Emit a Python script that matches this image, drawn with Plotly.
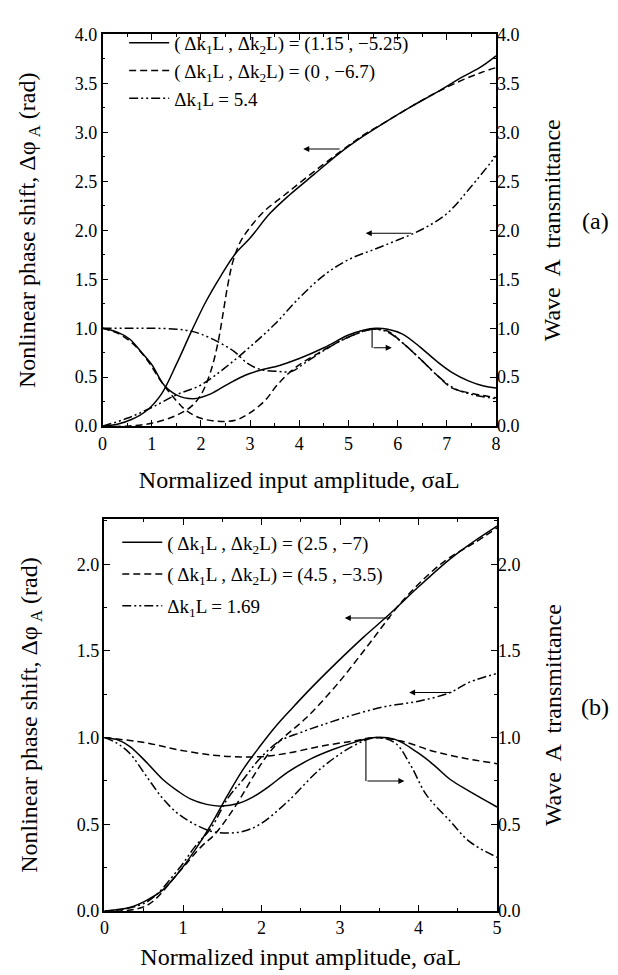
import plotly.graph_objects as go

FONT = "Liberation Serif, Times New Roman, Times, serif"

# ---------------- Panel (a) data ----------------
A_PHI1_X = [0, 0.3, 0.6, 0.9, 1.2, 1.5, 1.8, 2.1, 2.4, 2.7, 3.0, 3.4, 3.8, 4.3, 4.8, 5.3, 5.8, 6.3, 6.8, 7.3, 7.7, 8.0]
A_PHI1_Y = [0, 0.02, 0.07, 0.16, 0.33, 0.63, 0.96, 1.27, 1.53, 1.76, 1.92, 2.17, 2.36, 2.57, 2.78, 2.96, 3.12, 3.27, 3.41, 3.56, 3.67, 3.78]

A_PHI2_X = [0, 0.5, 1.0, 1.5, 1.8, 2.0, 2.2, 2.35, 2.45, 2.55, 2.65, 2.8, 3.0, 3.3, 3.7, 4.2, 4.8, 5.3, 5.8, 6.3, 6.8, 7.3, 7.7, 8.0]
A_PHI2_Y = [0, 0.0, 0.03, 0.11, 0.2, 0.32, 0.56, 0.86, 1.15, 1.45, 1.68, 1.88, 2.03, 2.2, 2.36, 2.56, 2.79, 2.97, 3.12, 3.27, 3.41, 3.53, 3.61, 3.66]

A_PHI3_X = [0, 0.5, 1.0, 1.5, 2.0, 2.5, 3.0, 3.5, 4.0, 4.5, 5.0, 5.5, 6.0, 6.5, 7.0, 7.5, 8.0]
A_PHI3_Y = [0, 0.08, 0.19, 0.32, 0.42, 0.60, 0.81, 1.04, 1.31, 1.54, 1.70, 1.80, 1.90, 2.01, 2.17, 2.45, 2.76]

A_T1_X = [0, 0.3, 0.55, 0.8, 1.0, 1.25, 1.5, 1.85, 2.2, 2.55, 2.9, 3.2, 3.6, 4.0, 4.5, 5.0, 5.3, 5.55, 5.8, 6.1, 6.45, 6.8, 7.1, 7.45, 7.75, 8.0]
A_T1_Y = [1.0, 0.96, 0.89, 0.75, 0.63, 0.42, 0.32, 0.28, 0.33, 0.43, 0.52, 0.57, 0.62, 0.69, 0.80, 0.93, 0.98, 1.0, 0.99, 0.94, 0.81, 0.66, 0.55, 0.46, 0.41, 0.39]

A_T2_X = [0, 0.3, 0.6, 0.9, 1.2, 1.5, 1.7, 2.0, 2.35, 2.7, 2.95, 3.3, 3.55, 3.9, 4.3, 4.8, 5.2, 5.5, 5.8, 6.1, 6.45, 6.8, 7.1, 7.45, 8.0]
A_T2_Y = [1.0, 0.95, 0.85, 0.68, 0.45, 0.26, 0.16, 0.08, 0.05, 0.06, 0.12, 0.26, 0.42, 0.59, 0.72, 0.86, 0.95, 0.99, 0.97, 0.85, 0.69, 0.52, 0.39, 0.34, 0.29]

A_T3_X = [0, 0.5, 1.0, 1.5, 1.8, 2.0, 2.35, 2.68, 2.95, 3.2, 3.55, 3.85, 4.1, 4.4, 4.8, 5.2, 5.5, 5.8, 6.1, 6.45, 6.8, 7.1, 7.45, 8.0]
A_T3_Y = [1.0, 1.0, 1.0, 0.99, 0.97, 0.94, 0.86, 0.76, 0.64, 0.58, 0.56, 0.56, 0.64, 0.74, 0.86, 0.95, 0.99, 0.96, 0.85, 0.69, 0.52, 0.40, 0.33, 0.28]

A_NAMES = ["( Δk<sub>1</sub>L , Δk<sub>2</sub>L) = (1.15 , −5.25)",
           "( Δk<sub>1</sub>L , Δk<sub>2</sub>L) = (0 , −6.7)",
           "Δk<sub>1</sub>L = 5.4"]

# ---------------- Panel (b) data ----------------
B_PHI1_X = [0, 0.32, 0.53, 0.74, 0.94, 1.15, 1.36, 1.57, 1.77, 1.98, 2.19, 2.39, 2.64, 2.95, 3.3, 3.65, 4.0, 4.4, 4.7, 5.0]
B_PHI1_Y = [0, 0.02, 0.06, 0.12, 0.22, 0.35, 0.50, 0.67, 0.82, 0.95, 1.07, 1.17, 1.29, 1.43, 1.58, 1.72, 1.87, 2.03, 2.13, 2.22]

B_PHI2_X = [0, 0.53, 0.94, 1.23, 1.4, 1.57, 1.73, 1.9, 2.06, 2.23, 2.56, 2.95, 3.37, 3.78, 4.15, 4.4, 4.7, 5.0]
B_PHI2_Y = [0, 0.03, 0.22, 0.37, 0.44, 0.54, 0.65, 0.78, 0.89, 0.98, 1.11, 1.30, 1.54, 1.78, 1.95, 2.04, 2.12, 2.21]

B_PHI3_X = [0, 0.53, 0.94, 1.15, 1.36, 1.57, 1.77, 1.98, 2.23, 2.5, 2.75, 3.16, 3.58, 4.0, 4.4, 4.65, 5.0]
B_PHI3_Y = [0, 0.05, 0.24, 0.37, 0.48, 0.65, 0.76, 0.88, 0.98, 1.03, 1.07, 1.13, 1.18, 1.21, 1.26, 1.32, 1.37]

B_T1_X = [0, 0.15, 0.32, 0.53, 0.74, 0.94, 1.1, 1.3, 1.5, 1.7, 1.9, 2.1, 2.33, 2.64, 2.9, 3.16, 3.41, 3.7, 4.0, 4.2, 4.4, 4.65, 5.0]
B_T1_Y = [1.0, 0.99, 0.95, 0.86, 0.76, 0.69, 0.645, 0.615, 0.605, 0.62, 0.66, 0.72, 0.80, 0.88, 0.93, 0.97, 1.0, 0.99, 0.91, 0.84, 0.76, 0.69, 0.60]

B_T2_X = [0, 0.53, 0.94, 1.36, 1.65, 1.98, 2.33, 2.75, 3.16, 3.45, 3.78, 4.2, 4.6, 5.0]
B_T2_Y = [1.0, 0.97, 0.93, 0.90, 0.89, 0.89, 0.91, 0.95, 0.98, 1.0, 0.98, 0.92, 0.88, 0.85]

B_T3_X = [0, 0.15, 0.32, 0.53, 0.74, 0.94, 1.15, 1.36, 1.57, 1.77, 1.98, 2.33, 2.75, 3.16, 3.45, 3.7, 3.9, 4.1, 4.4, 4.65, 5.0]
B_T3_Y = [1.0, 0.97, 0.91, 0.78, 0.65, 0.56, 0.50, 0.46, 0.45, 0.46, 0.50, 0.63, 0.82, 0.95, 1.0, 0.97, 0.84, 0.67, 0.52, 0.40, 0.31]

B_NAMES = ["( Δk<sub>1</sub>L , Δk<sub>2</sub>L) = (2.5 , −7)",
           "( Δk<sub>1</sub>L , Δk<sub>2</sub>L) = (4.5 , −3.5)",
           "Δk<sub>1</sub>L = 1.69"]

X_TITLE = "Normalized input amplitude, σaL"
Y_TITLE = "Nonlinear phase shift, Δφ<sub> A</sub> (rad)"
Y2_TITLE = "Wave  A  transmittance"
PANEL_LABELS = ["(a)", "(b)"]

# annotation arrows: (tail_x, head_x, y)
A_ARROWS = [(4.85, 4.08, 2.83), (6.31, 5.35, 1.97)]
A_BENT = (5.48, 1.0, 0.80, 5.88)
B_ARROWS = [(3.66, 3.06, 1.69), (4.44, 3.88, 1.26)]
B_BENT = (3.33, 1.0, 0.75, 3.82)

DASHES = ["solid", "7px,4px", "9px,3px,2px,3px,2px,3px"]

fig = go.Figure()


def add(x, y, xa, ya, dash, name=None, legend=None, show=False, group=None):
    fig.add_trace(go.Scatter(
        x=x, y=y, xaxis=xa, yaxis=ya, mode="lines",
        line=dict(color="black", width=1.5, dash=dash, shape="spline", smoothing=1.0),
        name=name, showlegend=show, legend=legend, legendgroup=group, hoverinfo="skip"))


a_phi = [(A_PHI1_X, A_PHI1_Y), (A_PHI2_X, A_PHI2_Y), (A_PHI3_X, A_PHI3_Y)]
a_t = [(A_T1_X, A_T1_Y), (A_T2_X, A_T2_Y), (A_T3_X, A_T3_Y)]
b_phi = [(B_PHI1_X, B_PHI1_Y), (B_PHI2_X, B_PHI2_Y), (B_PHI3_X, B_PHI3_Y)]
b_t = [(B_T1_X, B_T1_Y), (B_T2_X, B_T2_Y), (B_T3_X, B_T3_Y)]

for i in range(3):
    add(*a_phi[i], "x", "y", DASHES[i], A_NAMES[i], "legend", True, "a%d" % i)
    add(*a_t[i], "x", "y2", DASHES[i], None, None, False, "a%d" % i)
for i in range(3):
    add(*b_phi[i], "x2", "y3", DASHES[i], B_NAMES[i], "legend2", True, "b%d" % i)
    add(*b_t[i], "x2", "y4", DASHES[i], None, None, False, "b%d" % i)

tickfont = dict(family=FONT, size=18, color="black")
titlefont = dict(family=FONT, size=24, color="black")


def xax(domain, anchor, rng, standoff):
    return dict(domain=domain, anchor=anchor, range=rng, dtick=1, tick0=0,
                showline=True, linecolor="black", linewidth=1.5, mirror="ticks",
                ticks="inside", ticklen=6, tickwidth=1.2, tickcolor="black",
                showgrid=False, zeroline=False, tickfont=tickfont,
                minor=dict(dtick=0.5, ticks="inside", ticklen=3, tickwidth=1, tickcolor="black", showgrid=False),
                title=dict(text=X_TITLE, font=titlefont, standoff=standoff))


def yax(domain, anchor, rng):
    return dict(domain=domain, anchor=anchor, range=rng, dtick=0.5, tick0=0, tickformat=".1f",
                showline=True, linecolor="black", linewidth=1.5, mirror=True,
                ticks="inside", ticklen=6, tickwidth=1.2, tickcolor="black",
                showgrid=False, zeroline=False, tickfont=tickfont,
                minor=dict(dtick=0.25, ticks="inside", ticklen=3, tickwidth=1, tickcolor="black", showgrid=False),
                title=dict(text=Y_TITLE, font=titlefont, standoff=32))


def yax2(overlay, anchor, rng):
    return dict(overlaying=overlay, anchor=anchor, side="right", range=rng, dtick=0.5, tick0=0,
                tickformat=".1f", showline=False,
                ticks="inside", ticklen=6, tickwidth=1.2, tickcolor="black",
                showgrid=False, zeroline=False, tickfont=tickfont,
                minor=dict(dtick=0.25, ticks="inside", ticklen=3, tickwidth=1, tickcolor="black", showgrid=False),
                title=dict(text=Y2_TITLE, font=titlefont, standoff=24))


W, H = 618, 975
TOP_Y = [1 - 416.7 / H, 1 - 16.7 / H]
BOT_Y = [1 - 911.7 / H, 1 - 511.7 / H]

annotations = []
shapes = []


def arrows(lst, bent, xr, yr):
    for tail, head, yv in lst:
        annotations.append(dict(x=head, y=yv, ax=tail, ay=yv, xref=xr, yref=yr, axref=xr, ayref=yr,
                                showarrow=True, arrowhead=2, arrowsize=1.1, arrowwidth=1.1,
                                arrowcolor="black", text=""))
    bx, y0, y1, x1 = bent
    shapes.append(dict(type="line", xref=xr, yref=yr, x0=bx, x1=bx, y0=y0, y1=y1,
                       line=dict(color="black", width=1.1)))
    annotations.append(dict(x=x1, y=y1, ax=bx, ay=y1, xref=xr, yref=yr, axref=xr, ayref=yr,
                            showarrow=True, arrowhead=2, arrowsize=1.1, arrowwidth=1.1,
                            arrowcolor="black", text=""))


arrows(A_ARROWS, A_BENT, "x", "y")
arrows(B_ARROWS, B_BENT, "x2", "y3")

for lab, (px, py) in zip(PANEL_LABELS, [(592, 207), (592, 703)]):
    annotations.append(dict(text=lab, x=px / W, y=1 - py / H, xref="paper", yref="paper",
                            xanchor="center", yanchor="middle", showarrow=False,
                            font=dict(family=FONT, size=24, color="black")))

legfont = dict(family=FONT, size=19, color="black")

fig.update_layout(
    width=W, height=H,
    margin=dict(l=0, r=0, t=0, b=0),
    paper_bgcolor="white", plot_bgcolor="white",
    font=dict(family=FONT, color="black"),
    xaxis=xax([91 / W, 491 / W], "y", [0, 8], 19),
    yaxis=yax(TOP_Y, "x", [0, 4]),
    yaxis2=yax2("y", "x", [0, 4]),
    xaxis2=xax([93 / W, 492 / W], "y3", [0, 5], 11),
    yaxis3=yax(BOT_Y, "x2", [0, 2.26]),
    yaxis4=yax2("y3", "x2", [0, 2.26]),
    legend=dict(x=113 / W, y=1 - 6 / H, xanchor="left", yanchor="top", font=legfont,
                bgcolor="rgba(0,0,0,0)", tracegroupgap=0, itemwidth=40),
    legend2=dict(x=106 / W, y=1 - 516 / H, xanchor="left", yanchor="top", font=legfont,
                 bgcolor="rgba(0,0,0,0)", tracegroupgap=4, itemwidth=40),
    annotations=annotations,
    shapes=shapes,
)

fig.write_html("out.html")
